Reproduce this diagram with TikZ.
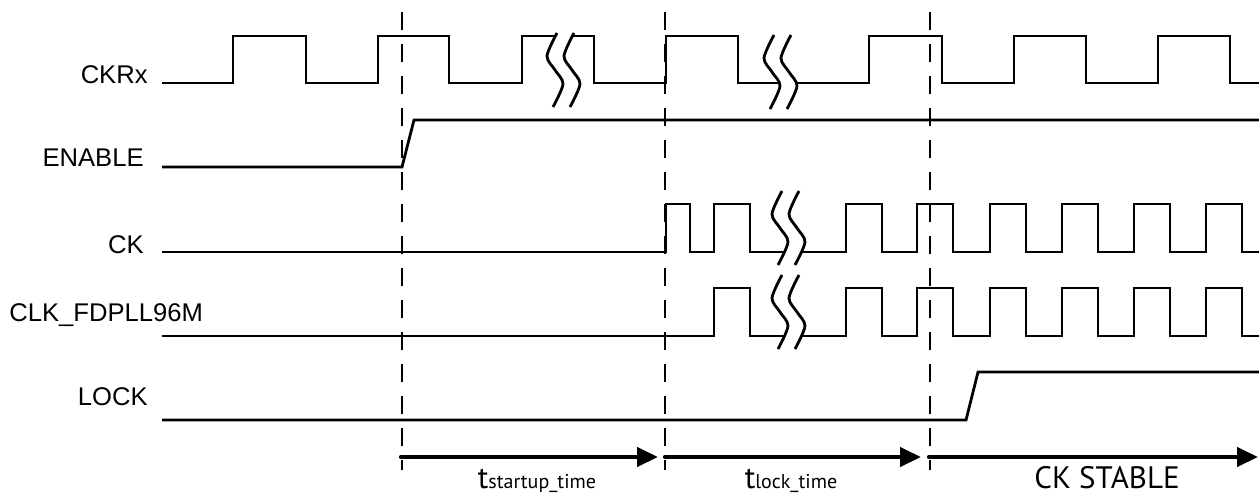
\documentclass[tikz,border=0pt]{standalone}
\usepackage{fontspec}
\setmainfont{Liberation Sans}
\newfontfamily\ptsans{PT Sans}
\usetikzlibrary{arrows.meta}

\tikzset{
  wave/.style={line width=1.4pt},
  marker/.style={line width=1.35pt, dash pattern=on 9pt off 7pt},
  span/.style={line width=2.1pt, line cap=round,
    -{Triangle[length=10.5pt,width=9.5pt]}},
  siglabel/.style={inner sep=0pt, font=\fontsize{12.8}{15}\selectfont},
  timelabel/.style={inner sep=0pt, anchor=base, font=\ptsans},
  brk/.pic={
    \fill[white] plot[smooth] coordinates {(2,-37) (-8,-14) (0,0) (8,14) (-2,37)}
      -- plot[smooth] coordinates {(15,37) (25,14) (17,0) (9,-14) (19,-37)} -- cycle;
    \draw[wave] plot[smooth] coordinates {(2,-37) (-8,-14) (0,0) (8,14) (-2,37)};
    \draw[wave] plot[smooth] coordinates {(19,-37) (9,-14) (17,0) (25,14) (15,37)};
  }
}

\begin{document}
\begin{tikzpicture}[x=0.5pt, y=-0.5pt]
        \useasboundingbox (0,0) rectangle (1259,495);

        \node[siglabel, anchor=east] (ckrx) at (148,75) {CKRx};
        \node[siglabel, anchor=east] (enable) at (144,158) {ENABLE};
        \node[siglabel, anchor=east] (ck) at (144,245) {CK};
        \node[siglabel, anchor=west] (clkpll) at (9,315) {CLK\_FDPLL96M};
        \node[siglabel, anchor=east] (lock) at (148,397) {LOCK};

        \draw[wave] (162,83) -| (233,36) -| (306,83) -| (378,36) -| (449,83) -| (522,36) -| (594,83)
            -| (666,36) -| (738,83) -| (869,36) -| (942,83) -| (1014,36) -| (1086,83) -| (1158,36)
            -| (1230,83) -- (1259,83);
        \draw[wave] (162,167) -- (402,167) -- (414,120) -- (1259,120);
        \draw[wave] (162,252) -| (666,204) -| (690,252) -| (714,204) -| (750,252) -| (846,204)
            -| (882,252) -| (917,204) -| (953,252) -| (990,204) -| (1026,252) -| (1062,204)
            -| (1098,252) -| (1134,204) -| (1170,252) -| (1206,204) -| (1242,252) -- (1259,252);
        \draw[wave] (162,336) -| (714,288) -| (750,336) -| (846,288) -| (882,336) -| (917,288)
            -| (953,336) -| (990,288) -| (1026,336) -| (1062,288) -| (1098,336) -| (1134,288)
            -| (1170,336) -| (1206,288) -| (1242,336) -- (1259,336);
        \draw[wave] (162,420) -- (966,420) -- (978,372) -- (1259,372);

        \pic at (555,70) {brk};
        \pic at (772,72) {brk};
        \pic at (780,228) {brk};
        \pic at (780,312) {brk};

        \foreach \x in {402,665,930}
            \draw[marker] (\x,12) -- (\x,470);

        \coordinate (t0) at (401,457);
        \coordinate (t1) at (665,457);
        \coordinate (t2) at (929,457);
        \coordinate (t3) at (1258,457);
        \draw[span, shorten >=3.5pt] (t0) -- (t1);
        \draw[span, shorten >=4pt] (t1) -- (t2);
        \draw[span] (t2) -- (t3);

        \node[timelabel] (tstart) at (537,488)
            {{\fontsize{15.5}{18}\selectfont t}{\fontsize{10}{12}\selectfont startup\_time}};
        \node[timelabel] (tlock) at (791,488)
            {{\fontsize{15.5}{18}\selectfont t}{\fontsize{10}{12}\selectfont lock\_time}};
        \node[timelabel, font=\ptsans\fontsize{15.5}{18}\selectfont] (stable) at (1107,488) {CK STABLE};
    \end{tikzpicture}
\end{document}
